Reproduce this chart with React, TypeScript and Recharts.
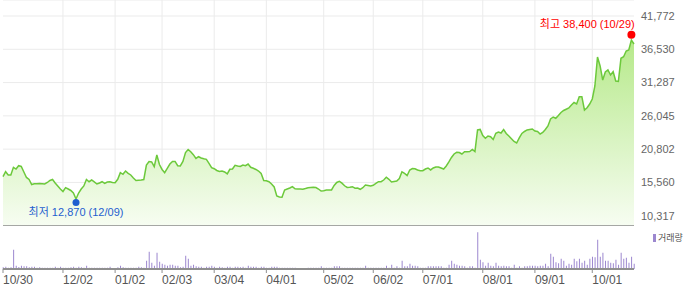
import React from 'react';
import {
  AreaChart,
  Area,
  BarChart,
  Bar,
  XAxis,
  YAxis,
  CartesianGrid,
  ReferenceDot,
  ReferenceLine,
  Legend,
} from 'recharts';

// Daily close, 2024-10-30 .. 2025-10-30 (trading days)
const price: number[] = [
  16460, 17250, 16730, 16730, 17940, 17670, 18190, 18070, 17200, 16340,
  16020, 15230, 15360, 15360, 15390, 15360, 15330, 15550, 15860, 16020,
  15470, 15000, 14520, 14130, 14730, 14520, 14290, 13890, 12950, 13890,
  14520, 15000, 16020, 15670, 15940, 15630, 15310, 15470, 15670, 15420,
  15630, 15670, 15550, 15520, 16050, 17090, 16840, 17360, 16990, 16730,
  16260, 15860, 15900, 15940, 16020, 18300, 18860, 18780, 18040, 19880,
  18380, 17600, 17090, 17790, 18460, 18860, 18860, 18190, 18150, 18860,
  20270, 20750, 20380, 19930, 19330, 19610, 19410, 19300, 19200, 18570,
  17880, 17720, 17440, 17280, 17360, 17200, 16890, 17630, 17670, 18260,
  18150, 18070, 18300, 18190, 18460, 17940, 17790, 17600, 17360, 16970,
  15860, 15830, 15670, 15310, 14840, 13420, 13260, 13220, 14370, 14520,
  14680, 14890, 14560, 14520, 14520, 14490, 14600, 14730, 14760, 14790,
  14760, 14520, 14210, 14260, 14370, 14370, 14370, 15080, 15550, 15740,
  15450, 15030, 14760, 14810, 14890, 14650, 14680, 14480, 14730, 15150,
  15080, 15000, 15110, 15390, 15670, 15670, 15940, 16370, 16050, 15630,
  15710, 15780, 16180, 17230, 16990, 16650, 17520, 17750, 17720, 17520,
  17410, 17410, 17670, 17830, 17520, 17830, 17990, 17990, 17830, 17670,
  18150, 18780, 19490, 20040, 20310, 20270, 20040, 20400, 20400, 20430,
  20750, 20430, 23820, 23900, 22950, 22510, 22870, 22760, 22320, 23300,
  23500, 23340, 23900, 23270, 22870, 22450, 22010, 21770, 22560, 23270,
  23580, 23820, 23900, 23970, 23660, 23580, 23190, 23420, 23900, 24450,
  25550, 25860, 25660, 26100, 26570, 26890, 27080, 27280, 27750, 28150,
  27910, 29060, 29060, 26970, 27330, 27910, 28700, 30750, 35310, 33900,
  31690, 32950, 33270, 32480, 33000, 31530, 31460, 35110, 35360, 36260,
  36420, 37990, 37360,
];

// Daily volume (relative units)
const volume: number[] = [
  5, 7, 4, 5, 58, 10, 6, 10, 8, 8,
  5, 7, 7, 4, 5, 4, 4, 4, 4, 4,
  7, 4, 7, 4, 4, 4, 5, 7, 4, 7,
  5, 4, 10, 4, 4, 4, 4, 4, 4, 4,
  4, 7, 3, 3, 5, 10, 5, 4, 4, 4,
  4, 4, 7, 5, 4, 25, 52, 19, 10, 49,
  22, 16, 13, 10, 13, 13, 10, 10, 5, 7,
  40, 31, 10, 13, 8, 7, 7, 4, 7, 7,
  10, 7, 4, 7, 5, 4, 7, 7, 4, 7,
  7, 5, 7, 4, 10, 7, 7, 7, 4, 7,
  7, 4, 4, 7, 7, 7, 4, 4, 4, 4,
  4, 4, 4, 1, 1, 3, 3, 4, 4, 4,
  4, 4, 8, 4, 4, 4, 4, 8, 8, 8,
  4, 4, 4, 4, 4, 4, 4, 4, 4, 10,
  4, 4, 4, 4, 4, 4, 4, 10, 4, 13,
  4, 8, 4, 25, 8, 8, 16, 10, 10, 8,
  4, 4, 4, 8, 8, 8, 8, 8, 8, 4,
  4, 13, 25, 16, 13, 10, 10, 8, 4, 8,
  8, 4, 110, 28, 20, 10, 19, 10, 8, 19,
  10, 8, 10, 8, 8, 4, 13, 4, 8, 4,
  8, 8, 10, 10, 10, 8, 10, 10, 16, 8,
  46, 37, 20, 17, 31, 25, 10, 16, 13, 31,
  23, 31, 19, 25, 13, 31, 37, 35, 88, 37,
  49, 25, 25, 19, 17, 28, 13, 49, 31, 34,
  19, 37, 16,
];

const tickIdx = [0, 23, 43, 61, 81, 101, 123, 142, 161, 184, 204, 226];
const tickLabels = ['10/30', '12/02', '01/02', '02/03', '03/04', '04/01', '05/02', '06/02', '07/01', '08/01', '09/01', '10/01'];

const yTicks = [10317, 15560, 20802, 26045, 31287, 36530, 41772];
const yDomain: [number, number] = [8695, 44292];

const low = { idx: 28, value: 12870, date: '12/09' };
const high = { idx: 241, value: 38400, date: '10/29' };

const FONT = '"Liberation Sans", Arial, "Noto Sans CJK KR", sans-serif';
const LINE = '#6cc93b';
const VOL = '#9c87cf';

const priceData = price.map((p, i) => ({ i, p }));
const volumeData = volume.map((v, i) => ({ i, v }));
const lastIdx = price.length - 1;

const LowMark = (props: any) => {
  const { cx, cy } = props;
  return (
    <g>
      <circle cx={cx} cy={cy + 3} r={3.5} fill="#1f5fcf" />
      <text x={cx} y={cy + 16.7} textAnchor="middle" fill="#1f5fcf" fontSize={11} fontFamily={FONT}>
        {`최저 ${low.value.toLocaleString('en-US')} (${low.date})`}
      </text>
    </g>
  );
};

const HighMark = (props: any) => {
  const { cx, cy } = props;
  return (
    <g>
      <circle cx={cx} cy={cy - 2.7} r={4} fill="#f00" />
      <text x={cx + 3.3} y={cy - 9.5} textAnchor="end" fill="#f00" fontSize={11} fontFamily={FONT}>
        {`최고 ${high.value.toLocaleString('en-US')} (${high.date})`}
      </text>
    </g>
  );
};

const VolumeLegend = () => (
  <div style={{ display: 'flex', alignItems: 'center', fontFamily: FONT, fontSize: 9, color: '#555' }}>
    <span style={{ display: 'inline-block', width: 3, height: 8, background: VOL, marginRight: 2 }} />
    <span>거래량</span>
  </div>
);

export default function App() {
  return (
    <div style={{ position: 'absolute', left: 0, top: 0, width: 700, height: 289, background: '#fff' }}>
      <div style={{ position: 'absolute', left: 0, top: 0 }}>
        <AreaChart width={700} height={226} data={priceData} margin={{ top: 0, right: 0, bottom: 0, left: 3 }}>
          <defs>
            <linearGradient id="priceFill" x1="0" y1="0" x2="0" y2="1">
              <stop offset="0%" stopColor="#b6e98a" />
              <stop offset="100%" stopColor="#f7fdf2" />
            </linearGradient>
          </defs>
          <CartesianGrid stroke="#ebebeb" verticalValues={tickIdx} />
          <XAxis dataKey="i" type="number" domain={[0, lastIdx]} ticks={tickIdx} hide />
          <YAxis
            orientation="right"
            width={66}
            domain={yDomain}
            ticks={yTicks}
            allowDataOverflow
            interval={0}
            axisLine={false}
            tickLine={false}
            tickSize={5}
            tickMargin={2}
            tickFormatter={(v: number) => v.toLocaleString('en-US')}
            tick={{ fontSize: 11, fill: '#666', fontFamily: FONT }}
          />
          <Area
            type="linear"
            dataKey="p"
            stroke={LINE}
            strokeWidth={1.5}
            fill="url(#priceFill)"
            fillOpacity={1}
            dot={false}
            activeDot={false}
            isAnimationActive={false}
          />
          <ReferenceLine y={yDomain[0]} stroke="#8a8a8a" strokeWidth={1.5} />
          <ReferenceDot x={low.idx} y={low.value} r={4} shape={LowMark} />
          <ReferenceDot x={high.idx} y={high.value} r={4} shape={HighMark} />
        </AreaChart>
      </div>
      <div style={{ position: 'absolute', left: 0, top: 225 }}>
        <BarChart width={700} height={64} data={volumeData} margin={{ top: 1, right: 66, bottom: 0, left: 3 }}>
          <XAxis
            dataKey="i"
            type="number"
            domain={[0, lastIdx]}
            ticks={tickIdx}
            interval={0}
            height={20}
            tickFormatter={(v: number) => tickLabels[tickIdx.indexOf(v)]}
            axisLine={{ stroke: '#8f8f8f', strokeWidth: 2 }}
            tickLine={{ stroke: '#8f8f8f' }}
            tickSize={4}
            tickMargin={2}
            tick={{ fontSize: 12, fill: '#555', fontFamily: FONT, textAnchor: 'start' }}
          />
          <YAxis hide domain={[0, 129]} />
          <Legend
            layout="horizontal"
            verticalAlign="middle"
            align="center"
            content={<VolumeLegend />}
            wrapperStyle={{ left: 653, top: 6, width: 'auto', height: 'auto' }}
          />
          <Bar dataKey="v" fill={VOL} barSize={1} isAnimationActive={false} />
        </BarChart>
      </div>
    </div>
  );
}
